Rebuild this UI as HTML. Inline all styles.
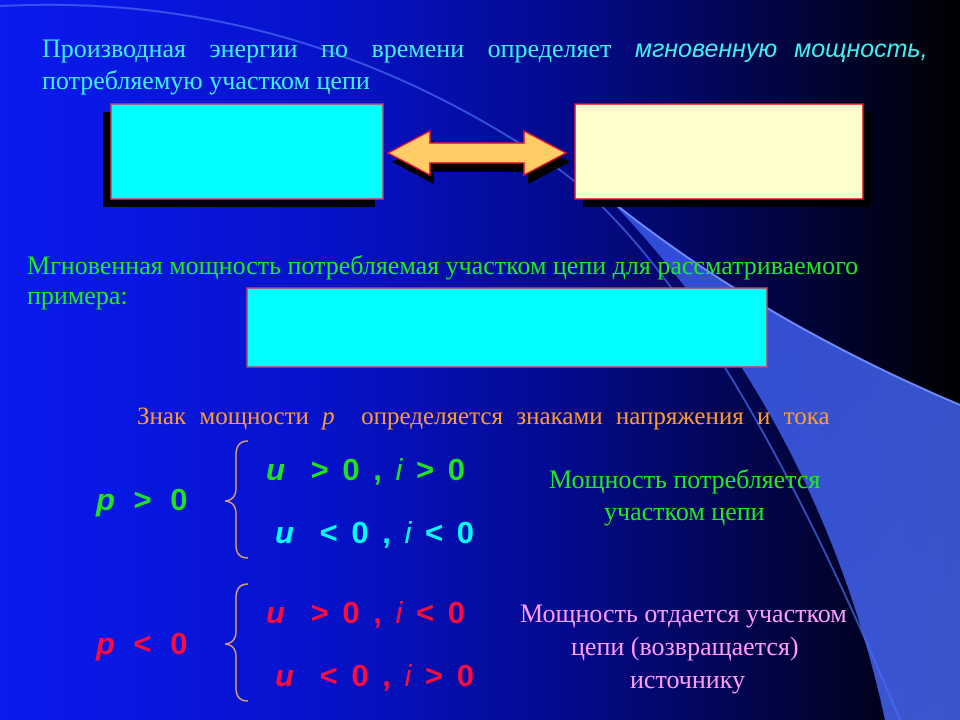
<!DOCTYPE html>
<html><head><meta charset="utf-8"><style>
body{margin:0;width:960px;height:720px;overflow:hidden;position:relative;font-family:"Liberation Serif",serif;
background:linear-gradient(90deg,#0a1af0 0%,#0612c8 35%,#040a8a 60%,#020440 82%,#000 100%);}
.t{position:absolute;white-space:nowrap;line-height:1}
.m{font-family:"Liberation Sans",sans-serif;font-weight:bold;font-size:31px;position:absolute;white-space:nowrap;line-height:1;word-spacing:2px;letter-spacing:1.5px}
.m i{font-style:italic}
</style></head><body>
<svg width="960" height="720" style="position:absolute;left:0;top:0">
<defs><linearGradient id="g" x1="0" y1="0" x2="1" y2="1"><stop offset="0" stop-color="#3a5cf0"/><stop offset="1" stop-color="#4a6cff"/></linearGradient></defs>
<path d="M0,6 Q300,-10 560,170 Q720,290 900,720" fill="none" stroke="#4a6cf0" stroke-width="2" opacity="0.7"/>
<path d="M610,200 Q760,320 960,405 L960,720 L885,720 Q820,420 610,200 Z" fill="url(#g)" opacity="0.8"/>
<path d="M610,200 Q760,320 960,405" fill="none" stroke="#6f8cff" stroke-width="2"/>
<rect x="103" y="112" width="272" height="95" fill="#000"/>
<rect x="111" y="104" width="272" height="95" fill="#00ffff" stroke="#c04060" stroke-width="1.5"/>
<rect x="583" y="112" width="288" height="95" fill="#000"/>
<rect x="575" y="104" width="288" height="95" fill="#ffffcc" stroke="#e01030" stroke-width="1.5"/>
<polygon transform="translate(4,9)" points="388,153 430,131 430,143 524,143 524,131 566,153 524,175 524,163 430,163 430,175" fill="#000"/>
<polygon points="388,153 430,131 430,143 524,143 524,131 566,153 524,175 524,163 430,163 430,175" fill="#ffcc66" stroke="#e01030" stroke-width="1.5"/>
<rect x="247" y="288" width="520" height="79" fill="#00ffff" stroke="#c04060" stroke-width="1.5"/>
<path d="M248,441 Q236,441 236,455 L236,488 Q236,500 225,501 Q236,502 236,514 L236,545 Q236,558 248,558" fill="none" stroke="#d8a070" stroke-width="1.5"/>
<path d="M248,584 Q236,584 236,598 L236,631 Q236,643 225,644 Q236,645 236,657 L236,688 Q236,701 248,701" fill="none" stroke="#d8a070" stroke-width="1.5"/>
</svg>
<div class="t" style="left:42px;top:36px;font-size:26px;color:#3cf0f0;word-spacing:17px">Производная энергии по времени определяет <span style="font-family:'Liberation Sans',sans-serif;font-style:italic;font-size:25px;word-spacing:10px">мгновенную мощность,</span></div>
<div class="t" style="left:42px;top:68px;font-size:26px;color:#3cf0f0">потребляемую участком цепи</div>
<div class="t" style="left:27px;top:253px;font-size:26px;color:#20e820">Мгновенная мощность потребляемая участком цепи для рассматриваемого</div>
<div class="t" style="left:27px;top:283px;font-size:26px;color:#20e820">примера:</div>
<div class="t" style="left:137px;top:404px;font-size:25px;color:#ff9a30;word-spacing:7px">Знак мощности <i>p</i>&nbsp; определяется знаками напряжения и тока</div>
<div class="m" style="left:96px;top:484px;color:#20e020;letter-spacing:4px"><i>p</i> &gt; 0</div>
<div class="m" style="left:266px;top:454px;color:#20e020"><i>u</i> &nbsp;&gt; 0 , <i style="font-weight:normal">i</i> &gt; 0</div>
<div class="m" style="left:275px;top:517px;color:#00ffff"><i>u</i> &nbsp;&lt; 0 , <i style="font-weight:normal">i</i> &lt; 0</div>
<div class="m" style="left:96px;top:628px;color:#ff0a3c;letter-spacing:4px"><i>p</i> &lt; 0</div>
<div class="m" style="left:266px;top:597px;color:#ff0a3c"><i>u</i> &nbsp;&gt; 0 , <i style="font-weight:normal">i</i> &lt; 0</div>
<div class="m" style="left:275px;top:660px;color:#ff0a3c"><i>u</i> &nbsp;&lt; 0 , <i style="font-weight:normal">i</i> &gt; 0</div>
<div class="t" style="left:549px;top:467px;font-size:26px;color:#20e820">Мощность потребляется</div>
<div class="t" style="left:604px;top:499px;font-size:26px;color:#20e820">участком цепи</div>
<div class="t" style="left:520px;top:601px;font-size:26px;color:#ff9cff">Мощность отдается участком</div>
<div class="t" style="left:571px;top:634px;font-size:26px;color:#ff9cff">цепи (возвращается)</div>
<div class="t" style="left:630px;top:667px;font-size:26px;color:#ff9cff">источнику</div>
</body></html>
